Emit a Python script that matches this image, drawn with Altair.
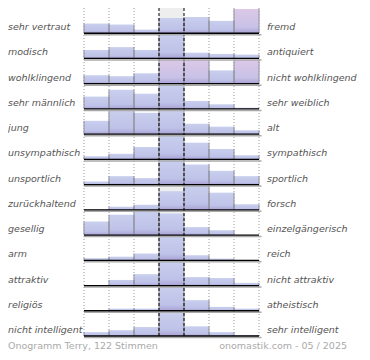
import altair as alt
import pandas as pd

left_labels = ["sehr vertraut", "modisch", "wohlklingend", "sehr männlich", "\u00a0jung",
               "unsympathisch", "unsportlich", "zurückhaltend", "gesellig", "arm",
               "attraktiv", "religiös", "nicht intelligent"]
right_labels = ["fremd", "antiquiert", "nicht wohlklingend", "sehr weiblich", "alt",
                "sympathisch", "sportlich", "forsch", "einzelgängerisch", "reich",
                "nicht attraktiv", "atheistisch", "sehr intelligent"]
# relative bar heights (row maximum = 100), 7 steps per row
values = [
    [40, 36, 15, 63, 67, 51, 100],
    [35, 47, 35, 100, 24, 19, 16],
    [35, 31, 43, 100, 100, 55, 100],
    [51, 79, 63, 100, 33, 19, 5],
    [55, 97, 88, 100, 43, 31, 16],
    [13, 23, 51, 100, 69, 43, 17],
    [13, 35, 27, 100, 83, 57, 35],
    [3, 13, 21, 77, 100, 71, 23],
    [56, 84, 100, 89, 33, 20, 0],
    [9, 15, 28, 100, 21, 7, 0],
    [2, 23, 47, 100, 35, 31, 11],
    [1, 9, 9, 100, 44, 16, 9],
    [16, 24, 37, 100, 40, 16, 4],
]
highlight = [(0, 6), (2, 3), (2, 4), (2, 6)]
footer_left = "Onogramm Terry, 122 Stimmen"
footer_right = "onomastik.com - 05 / 2025"

recs = []
for r, vals in enumerate(values):
    for c, v in enumerate(vals):
        recs.append({"row": r, "col": c, "value": v, "pink": 1 if (r, c) in highlight else 0})
bars_df = pd.DataFrame(recs)
labels_df = pd.DataFrame({"row": list(range(len(left_labels))),
                          "left": left_labels, "right": right_labels})
grid_df = pd.DataFrame({"gx": [0, 1, 2, 5, 6, 7]})
dash_df = pd.DataFrame({"gx": [3, 4]})
base_df = pd.DataFrame({"row": list(range(len(values)))})
foot_df = pd.DataFrame({"l": [footer_left], "r": [footer_right]})

W, H = 175, 328
NR = len(values)
xs = alt.Scale(domain=[0, 7], range=[0, W], nice=False, zero=False)
ys = alt.Scale(domain=[0, NR], range=[0, H], nice=False, zero=False)

def grad(top, mid, bot):
    return alt.Gradient(gradient="linear",
                        stops=[alt.GradientStop(offset=0, color=top),
                               alt.GradientStop(offset=0.75, color=mid),
                               alt.GradientStop(offset=1, color=bot)],
                        x1=0, x2=0, y1=0, y2=1)

bg = alt.Chart(pd.DataFrame({"a": [3], "b": [4], "c": [0], "d": [NR]})).mark_rect(color="#eeeeee").encode(
    x=alt.X("a:Q", scale=xs, axis=None), x2="b:Q",
    y=alt.Y("c:Q", scale=ys, axis=None), y2="d:Q")

grid = alt.Chart(grid_df).transform_calculate(y0="0", y1=str(NR)).mark_rule(
    color="#999999", strokeDash=[1, 2], strokeWidth=1).encode(
    x=alt.X("gx:Q", scale=xs, axis=None),
    y=alt.Y("y0:Q", scale=ys, axis=None), y2="y1:Q")

bar_base = alt.Chart(bars_df).transform_filter("datum.value > 0").transform_calculate(
    x0="datum.col", x1="datum.col + 1",
    base="datum.row + 1", top="datum.row + 1 - datum.value / 100 * 0.96")

blue = bar_base.transform_filter("datum.pink == 0").mark_rect(
    color=grad("#c9cfee", "#bec2e8", "#a9a1d4")).encode(
    x=alt.X("x0:Q", scale=xs, axis=None), x2="x1:Q",
    y=alt.Y("top:Q", scale=ys, axis=None), y2="base:Q")
pink = bar_base.transform_filter("datum.pink == 1").mark_rect(
    color=grad("#ddc8e7", "#c8c2e7", "#a9a1d4")).encode(
    x=alt.X("x0:Q", scale=xs, axis=None), x2="x1:Q",
    y=alt.Y("top:Q", scale=ys, axis=None), y2="base:Q")
edge_l = bar_base.mark_rule(color="#8f8f9c", strokeWidth=1).encode(
    x=alt.X("x0:Q", scale=xs, axis=None),
    y=alt.Y("top:Q", scale=ys, axis=None), y2="base:Q")
edge_r = bar_base.mark_rule(color="#8f8f9c", strokeWidth=1).encode(
    x=alt.X("x1:Q", scale=xs, axis=None),
    y=alt.Y("top:Q", scale=ys, axis=None), y2="base:Q")

dashed = alt.Chart(dash_df).transform_calculate(y0="0", y1=str(NR)).mark_rule(
    color="black", strokeDash=[3, 2], strokeWidth=1).encode(
    x=alt.X("gx:Q", scale=xs, axis=None),
    y=alt.Y("y0:Q", scale=ys, axis=None), y2="y1:Q")

bl = alt.Chart(base_df).transform_calculate(base="datum.row + 1", xa="0", xb="7", xc="7.1")
shadow = bl.mark_rule(color="#aaaaaa", strokeWidth=1.5, yOffset=1.5).encode(
    x=alt.X("xa:Q", scale=xs, axis=None), x2="xc:Q",
    y=alt.Y("base:Q", scale=ys, axis=None))
line = bl.mark_rule(color="black", strokeWidth=1.3).encode(
    x=alt.X("xa:Q", scale=xs, axis=None), x2="xb:Q",
    y=alt.Y("base:Q", scale=ys, axis=None))

lab = alt.Chart(labels_df).transform_calculate(base="datum.row + 1")
txt_props = dict(font="DejaVu Sans", fontSize=9.5, fontStyle="italic", color="#555555",
                 baseline="alphabetic", dy=-3)
left_t = lab.mark_text(align="left", **txt_props).encode(
    x=alt.value(-76), y=alt.Y("base:Q", scale=ys, axis=None), text="left:N")
right_t = lab.mark_text(align="left", **txt_props).encode(
    x=alt.value(W + 8), y=alt.Y("base:Q", scale=ys, axis=None), text="right:N")

foot_props = dict(font="DejaVu Sans", fontSize=9.5, color="#aaaaaa", baseline="alphabetic")
foot_l = alt.Chart(foot_df).mark_text(align="left", **foot_props).encode(
    x=alt.value(-76), y=alt.value(H + 13), text="l:N")
foot_r = alt.Chart(foot_df).mark_text(align="right", **foot_props).encode(
    x=alt.value(263), y=alt.value(H + 13), text="r:N")

chart = alt.layer(bg, grid, blue, pink, edge_l, edge_r, dashed, shadow, line,
                  left_t, right_t, foot_l, foot_r).properties(
    width=W, height=H,
    autosize=alt.AutoSizeParams(type="none"),
    padding={"left": 76, "top": 0, "right": 100, "bottom": 16},
).configure_view(stroke=None)

chart.save("out.html", embed_options={"renderer": "svg", "actions": False})
